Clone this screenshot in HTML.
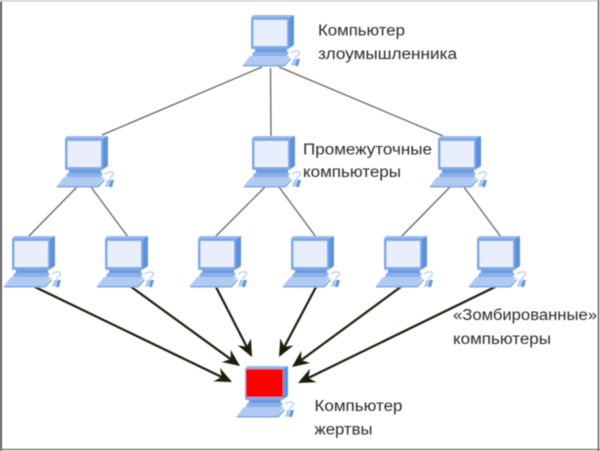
<!DOCTYPE html>
<html><head><meta charset="utf-8"><style>
html,body{margin:0;padding:0;background:#fff}
svg{display:block}
text{font-family:"Liberation Sans",sans-serif;font-size:15.5px;fill:#2a2a2a}
</style></head><body>
<svg width="600" height="451" viewBox="0 0 600 451" xmlns="http://www.w3.org/2000/svg">
<defs>
<filter id="b" x="-5%" y="-5%" width="110%" height="110%"><feGaussianBlur stdDeviation="0.5"/></filter>
<marker id="a" markerUnits="userSpaceOnUse" markerWidth="20" markerHeight="20" refX="15" refY="8" orient="auto" viewBox="0 0 20 20"><path d="M17,8 L0,0.500 L5.500,8 L0,15.500 Z" fill="#1e1a10"/></marker>
<g id="pc">
<path d="M37,2 L43,-1 L43,29 L37,33 Z" fill="#5c92dc"/>
<path d="M2,-1 L43,-1 L37,2 L0,2 Z" fill="#9dbdec"/>
<rect x="0" y="1" width="38" height="32" rx="1.500" fill="#7fa9e6"/>
<rect x="2.500" y="4" width="33.500" height="26" fill="#e8eefb"/>
<rect x="4" y="33" width="32" height="3" fill="#6a9ce0"/>
<path d="M2,36 H38 L36,40 H1 Z" fill="#8ab1e8"/>
<path d="M-1,40 H39 L33,49 H-8 Z" fill="#b0caf1"/>
<path d="M-8,49 H33 L34,50.500 H-8 Z" fill="#7fa9e6"/>
<path d="M39,42 L33,49 L34,50 L40,43 Z" fill="#6a9ce0"/>
<path d="M40,37 C44,34 50,34 48,38 C47,40 44,40 45,43" fill="none" stroke="#b0caf1" stroke-width="1.200"/>
<path d="M42,43 H47 L46,49 L40,50 Z" fill="#b0caf1"/>
<path d="M46,43 H49 L47,50 H44 Z" fill="#5c92dc"/>
</g>
</defs>
<rect width="600" height="451" fill="#fff"/>
<g filter="url(#b)">
<path d="M1,451 V1" stroke="#333" stroke-width="1.600"/>
<path d="M0,1 H600" stroke="#bbb" stroke-width="1"/>
<path d="M598.500,0 V451" stroke="#555" stroke-width="1.400"/>
<path d="M0,449.500 H600" stroke="#666" stroke-width="1.200"/>
<g stroke="#666" stroke-width="1.300" fill="none">
<path d="M262,67 L102,135"/><path d="M270.500,68 L271,136"/><path d="M279,67 L443,136"/>
<path d="M77,187 L28,237"/><path d="M91,187 L128,237"/>
<path d="M265,187 L215,237"/><path d="M279,187 L316,237"/>
<path d="M450,187 L401,237"/><path d="M464,187 L501,237"/>
</g>
<g stroke="#1e1a10" stroke-width="2.200" fill="none">
<path d="M33,286 L230.200,381.100" marker-end="url(#a)"/>
<path d="M130,286 L238.400,364.800" marker-end="url(#a)"/>
<path d="M216,287 L251.100,355.200" marker-end="url(#a)"/>
<path d="M316,287 L279.900,355.200" marker-end="url(#a)"/>
<path d="M402,286 L293.600,365.800" marker-end="url(#a)"/>
<path d="M497,286 L299.800,382.100" marker-end="url(#a)"/>
</g>
<use href="#pc" x="251" y="16"/>
<use href="#pc" x="65" y="137"/><use href="#pc" x="252" y="137"/><use href="#pc" x="438" y="137"/>
<use href="#pc" x="12" y="237"/><use href="#pc" x="105" y="237"/><use href="#pc" x="198" y="237"/>
<use href="#pc" x="291" y="237"/><use href="#pc" x="384" y="237"/><use href="#pc" x="477" y="237"/>
<use href="#pc" x="245" y="367"/>
<rect x="246" y="369" width="37" height="28" fill="#ff0000"/>
<text x="318" y="35.500" textLength="87" lengthAdjust="spacingAndGlyphs">Компьютер</text>
<text x="318" y="59" textLength="139" lengthAdjust="spacingAndGlyphs">злоумышленника</text>
<text x="303" y="154.500" textLength="129" lengthAdjust="spacingAndGlyphs">Промежуточные</text>
<text x="303" y="177" textLength="98" lengthAdjust="spacingAndGlyphs">компьютеры</text>
<text x="453" y="320" textLength="144" lengthAdjust="spacingAndGlyphs">«Зомбированные»</text>
<text x="453" y="344" textLength="98" lengthAdjust="spacingAndGlyphs">компьютеры</text>
<text x="314.500" y="411" textLength="88" lengthAdjust="spacingAndGlyphs">Компьютер</text>
<text x="314.500" y="434.500" textLength="58" lengthAdjust="spacingAndGlyphs">жертвы</text>
</g>
</svg>
</body></html>
